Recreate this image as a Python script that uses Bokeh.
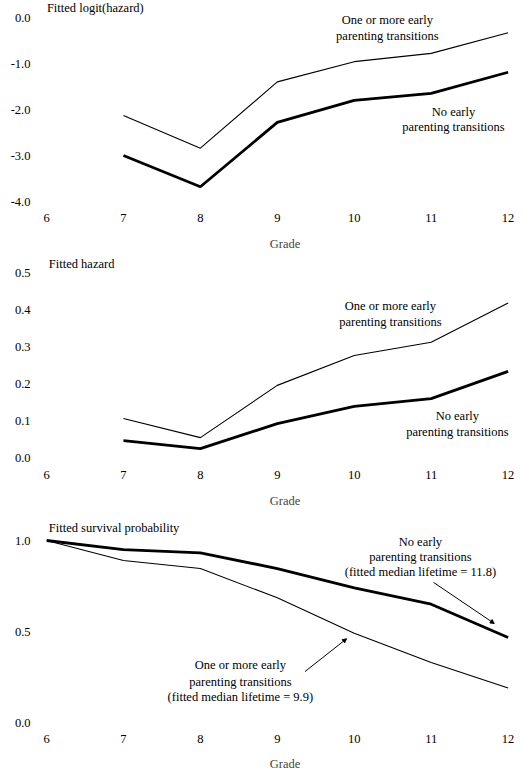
from bokeh.plotting import figure
from bokeh.models import Label, Arrow, NormalHead, FixedTicker, PrintfTickFormatter, Range1d
from bokeh.layouts import column
from bokeh.embed import file_html
from bokeh.resources import INLINE

# ---- data ----
grades = [6, 7, 8, 9, 10, 11, 12]
grades_hz = [7, 8, 9, 10, 11, 12]
logit_one = [-2.13, -2.84, -1.40, -0.96, -0.78, -0.33]
logit_none = [-3.00, -3.68, -2.28, -1.80, -1.65, -1.19]
hazard_one = [0.106, 0.054, 0.196, 0.277, 0.313, 0.420]
hazard_none = [0.046, 0.024, 0.092, 0.139, 0.160, 0.234]
surv_one = [1.0, 0.89, 0.846, 0.685, 0.49, 0.33, 0.19]
surv_none = [1.0, 0.95, 0.932, 0.846, 0.74, 0.65, 0.467]

x_ticks = [6, 7, 8, 9, 10, 11, 12]
logit_ticks = [0.0, -1.0, -2.0, -3.0, -4.0]
hazard_ticks = [0.0, 0.1, 0.2, 0.3, 0.4, 0.5]
surv_ticks = [0.0, 0.5, 1.0]

FONT = "Liberation Serif"
FS = "12.5px"


def make_fig(height, bottom, yr, yticks, xstand, lab_stand, ystand):
    p = figure(width=523, height=height, x_range=Range1d(6, 12.2), y_range=Range1d(*yr),
               output_backend="svg", toolbar_location=None,
               min_border_left=46, min_border_right=0,
               min_border_top=0, min_border_bottom=bottom)
    p.grid.visible = False
    p.outline_line_color = None
    p.background_fill_color = "white"
    for ax in (p.xaxis[0], p.yaxis[0]):
        ax.axis_line_color = None
        ax.major_tick_line_color = None
        ax.minor_tick_line_color = None
        ax.major_tick_out = 0
        ax.major_tick_in = 0
        ax.major_label_text_font = FONT
        ax.major_label_text_font_size = FS
        ax.major_label_text_color = "black"
    p.xaxis[0].ticker = FixedTicker(ticks=x_ticks)
    p.yaxis[0].ticker = FixedTicker(ticks=yticks)
    p.yaxis[0].formatter = PrintfTickFormatter(format="%.1f")
    p.xaxis[0].major_label_standoff = xstand
    p.yaxis[0].major_label_standoff = ystand
    p.xaxis[0].axis_label = "Grade"
    p.xaxis[0].axis_label_text_font = FONT
    p.xaxis[0].axis_label_text_font_size = FS
    p.xaxis[0].axis_label_text_font_style = "normal"
    p.xaxis[0].axis_label_standoff = lab_stand
    return p


def add_text(p, x, y, txt, align="center", baseline="middle"):
    p.add_layout(Label(x=x, y=y, text=txt, text_font=FONT, text_font_size=FS,
                       text_align=align, text_baseline=baseline, text_color="black"))


def add_arrow(p, xs, ys, xe, ye):
    p.add_layout(Arrow(end=NormalHead(size=4, fill_color="black", line_color="black", line_width=1),
                       x_start=xs, y_start=ys, x_end=xe, y_end=ye,
                       line_color="black", line_width=1))


# ---- panel 1 : logit hazard ----
p1 = make_fig(255, 54, (-4, 0.3696), logit_ticks, 12, 12, 16)
p1.line(grades_hz, logit_one, line_color="black", line_width=1.1)
p1.line(grades_hz, logit_none, line_color="black", line_width=2.8)
add_text(p1, 6.005, 0.20, "Fitted logit(hazard)", align="left")
add_text(p1, 10.43, -0.06, "One or more early")
add_text(p1, 10.43, -0.40, "parenting transitions")
add_text(p1, 11.29, -2.05, "No early")
add_text(p1, 11.29, -2.39, "parenting transitions")

# ---- panel 2 : hazard ----
p2 = make_fig(258, 56, (0, 0.5489), hazard_ticks, 13, 12, 16)
p2.line(grades_hz, hazard_one, line_color="black", line_width=1.1)
p2.line(grades_hz, hazard_none, line_color="black", line_width=2.8)
add_text(p2, 6.03, 0.525, "Fitted hazard", align="left")
add_text(p2, 10.47, 0.411, "One or more early")
add_text(p2, 10.47, 0.367, "parenting transitions")
add_text(p2, 11.34, 0.112, "No early")
add_text(p2, 11.34, 0.068, "parenting transitions")

# ---- panel 3 : survival ----
p3 = make_fig(264, 55, (0, 1.1484), surv_ticks, 12, 11, 16)
p3.line(grades, surv_one, line_color="black", line_width=1.1)
p3.line(grades, surv_none, line_color="black", line_width=2.8)
add_text(p3, 6.03, 1.066, "Fitted survival probability", align="left")
add_text(p3, 10.86, 0.990, "No early")
add_text(p3, 10.86, 0.908, "parenting transitions")
add_text(p3, 10.86, 0.825, "(fitted median lifetime = 11.8)")
add_text(p3, 8.52, 0.315, "One or more early")
add_text(p3, 8.52, 0.222, "parenting transitions")
add_text(p3, 8.52, 0.139, "(fitted median lifetime = 9.9)")
add_arrow(p3, 11.03, 0.77, 11.82, 0.544)
add_arrow(p3, 9.36, 0.28, 9.90, 0.46)

layout = column(p1, p2, p3, spacing=0)
open("out.html", "w").write(file_html(layout, INLINE))
